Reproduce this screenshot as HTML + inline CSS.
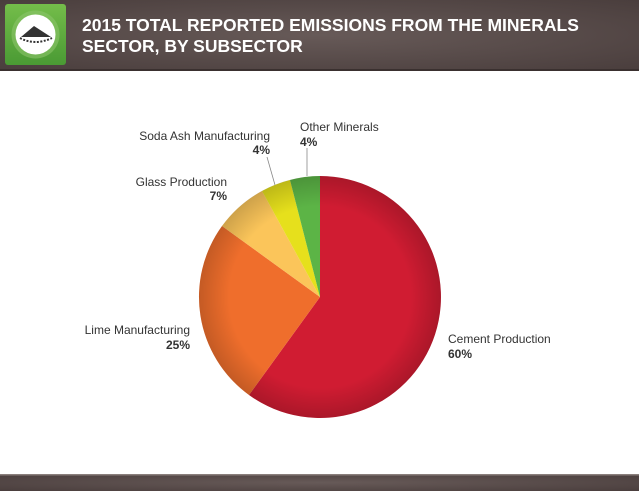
<!DOCTYPE html>
<html><head><style>
body{margin:0;width:639px;height:491px;overflow:hidden;background:#fff;font-family:"Liberation Sans",sans-serif;}
</style></head><body>
<svg width="639" height="491" viewBox="0 0 639 491" xmlns="http://www.w3.org/2000/svg" style="position:absolute;left:0;top:0">
<defs>
<radialGradient id="hd" cx="50%" cy="50%" r="70%"><stop offset="0" stop-color="#675a58"/><stop offset="1" stop-color="#4a3e3d"/></radialGradient>
<linearGradient id="gb" x1="0" y1="0" x2="0" y2="1"><stop offset="0" stop-color="#74bd4a"/><stop offset="1" stop-color="#4a9a34"/></linearGradient>
<radialGradient id="sh" cx="320" cy="297" r="121" gradientUnits="userSpaceOnUse"><stop offset="0.75" stop-color="#000" stop-opacity="0"/><stop offset="1" stop-color="#000" stop-opacity="0.18"/></radialGradient>
</defs>
<rect x="0" y="0" width="639" height="70" fill="url(#hd)"/>
<rect x="0" y="69" width="639" height="2" fill="#3a302f"/>
<rect x="5" y="4" width="61" height="61" rx="3" fill="url(#gb)"/>
<circle cx="35.5" cy="34.5" r="24" fill="#8cc56a" opacity="0.6"/>
<circle cx="35.5" cy="34.5" r="20" fill="#fff"/>
<path d="M21 37 L34 26 L51 37 Z" fill="#333"/>
<path d="M20 38 Q35 46 52 38" stroke="#333" stroke-width="2" stroke-dasharray="2 1.5" fill="none"/>
<text x="82" y="31" font-size="17.5" font-weight="bold" fill="#fff">2015 TOTAL REPORTED EMISSIONS FROM THE MINERALS</text>
<text x="82" y="52" font-size="17.5" font-weight="bold" fill="#fff">SECTOR, BY SUBSECTOR</text>
<rect x="0" y="474" width="639" height="17" fill="url(#hd)"/>
<rect x="0" y="474" width="639" height="1.5" fill="#8a7f7c"/>
<g>
<path d="M320 297 L320 176 A121 121 0 1 1 249 395 Z" fill="#d01c32"/>
<path d="M320 297 L249 395 A121 121 0 0 1 222 226 Z" fill="#ef6e2c"/>
<path d="M320 297 L222 226 A121 121 0 0 1 262 191 Z" fill="#fbc55a"/>
<path d="M320 297 L262 191 A121 121 0 0 1 290 180 Z" fill="#e6e01c"/>
<path d="M320 297 L290 180 A121 121 0 0 1 320 176 Z" fill="#5cb446"/>
<circle cx="320" cy="297" r="121" fill="url(#sh)"/>
</g>
<line x1="275" y1="185" x2="267" y2="157" stroke="#888" stroke-width="0.8"/>
<line x1="307" y1="176" x2="307" y2="148" stroke="#888" stroke-width="0.8"/>
<g font-size="12" fill="#333">
<text x="270" y="140" text-anchor="end">Soda Ash Manufacturing</text>
<text x="270" y="154" text-anchor="end" font-weight="bold">4%</text>
<text x="300" y="131">Other Minerals</text>
<text x="300" y="146" font-weight="bold">4%</text>
<text x="227" y="186" text-anchor="end">Glass Production</text>
<text x="227" y="200" text-anchor="end" font-weight="bold">7%</text>
<text x="190" y="334" text-anchor="end">Lime Manufacturing</text>
<text x="190" y="349" text-anchor="end" font-weight="bold">25%</text>
<text x="448" y="343">Cement Production</text>
<text x="448" y="358" font-weight="bold">60%</text>
</g>
</svg>
</body></html>
